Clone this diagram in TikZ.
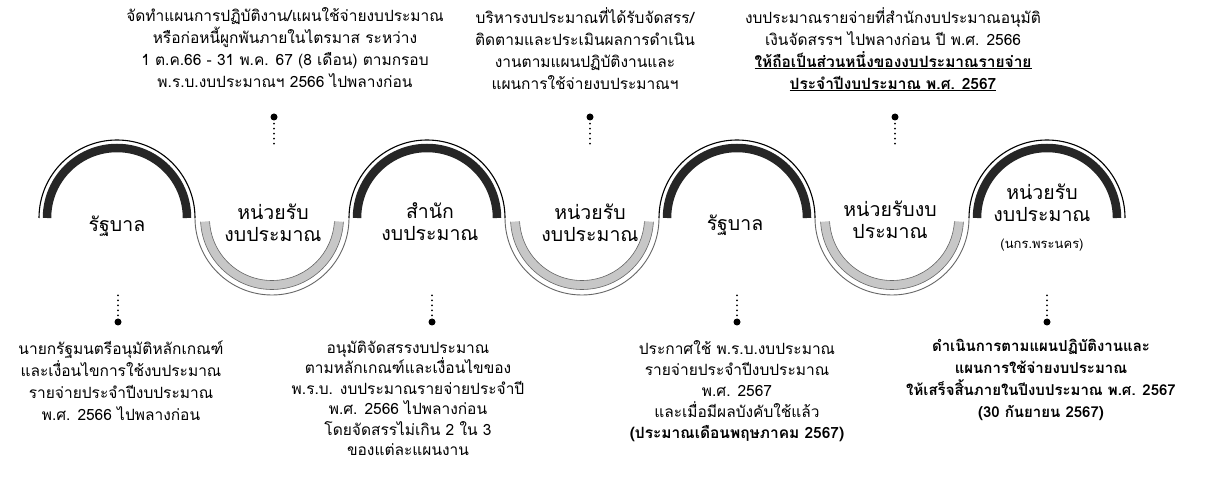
\documentclass[tikz,border=0pt]{standalone}
\usepackage{fontspec}
\newfontfamily\thaifont[Script=Thai]{Loma}
\usetikzlibrary{positioning,calc}
\tikzset{
  hill/.style={line width=8.5pt, draw=black!85},
  hillrim/.style={line width=1.1pt, draw=black},
  dip/.style={line width=9pt, draw=black!22},
  diprim/.style={line width=0.6pt, draw=black!60},
  stage/.style={font=\thaifont\fontsize{19.5}{22}\selectfont, align=center, inner sep=0pt},
  note/.style={font=\thaifont\fontsize{15.5}{22}\selectfont, align=center, inner sep=0pt},
  pin/.style={circle, fill=black, minimum size=7pt, inner sep=0pt},
  connect/.style={line width=2pt, dash pattern=on 0pt off 5pt, line cap=round, shorten <=3pt}
}
\begin{document}
\begin{tikzpicture}[x=1pt,y=1pt]
  \useasboundingbox (0,0) rectangle (1212,479);

  % Draw the hills: dark band with a thin rim
  \foreach \i [evaluate = \i as \cx using {117+155*\i}] in {0,2,4,6} {
    \draw[hillrim] ({\cx+78},261) arc[start angle=0, end angle=180, radius=78];
    \draw[hill] ({\cx+70},261) arc[start angle=0, end angle=180, radius=70];
  }

  % Draw the dips: grey band between thin lines
  \foreach \i [evaluate = \i as \cx using {117+155*\i}] in {1,3,5} {
    \draw[diprim, line width=0.9pt] ({\cx-77},261) arc[start angle=180, end angle=360, radius=77];
    \draw[dip] ($({\cx},261)+(183:67)$) arc[start angle=183, end angle=357, radius=67];
    \draw[diprim] ($({\cx},261)+(183:71.5)$) arc[start angle=183, end angle=357, radius=71.5];
    \draw[diprim] ($({\cx},261)+(183:62.5)$) arc[start angle=183, end angle=357, radius=62.5];
  }

  % Stage names
  \node[stage] (gov_1) at (117,253) {รัฐบาล};
  \node[stage] (unit_1) at (273,256) {หน่วยรับ\\งบประมาณ};
  \node[stage] (bureau) at (430,257) {สำนัก\\งบประมาณ};
  \node[stage] (unit_2) at (590,256) {หน่วยรับ\\งบประมาณ};
  \node[stage] (gov_2) at (735,254) {รัฐบาล};
  \node[stage] (unit_3) at (890,259) {หน่วยรับงบ\\ประมาณ};
  \node[stage] (unit_4) at (1042,261) {หน่วยรับ\\งบประมาณ\\[5pt]{\fontsize{13}{16}\selectfont (นกร.พระนคร)}};

  % Pins above the dips
  \node[pin] (pin_t1) at (274,362) {};
  \node[pin] (pin_t2) at (590,362) {};
  \node[pin] (pin_t3) at (895,362) {};
  \foreach \p in {t1,t2,t3} {
    \coordinate (end_\p) at ($(pin_\p)+(0,-31)$);
    \path (pin_\p) edge [connect] (end_\p);
  }

  % Pins below the hills
  \node[pin] (pin_b1) at (118,157) {};
  \node[pin] (pin_b2) at (432,157) {};
  \node[pin] (pin_b3) at (737,157) {};
  \node[pin] (pin_b4) at (1047,157) {};
  \foreach \p in {b1,b2,b3,b4} {
    \coordinate (end_\p) at ($(pin_\p)+(0,31)$);
    \path (pin_\p) edge [connect] (end_\p);
  }

  % Notes on top
  \node[note, anchor=north] (plan) at (285,472)
    {จัดทำแผนการปฏิบัติงาน/แผนใช้จ่ายงบประมาณ\\หรือก่อหนี้ผูกพันภายในไตรมาส ระหว่าง\\1 ต.ค.66 - 31 พ.ค. 67 (8 เดือน) ตามกรอบ\\พ.ร.บ.งบประมาณฯ 2566 ไปพลางก่อน};
  \node[note, anchor=north] (manage) at (585,472)
    {บริหารงบประมาณที่ได้รับจัดสรร/\\ติดตามและประเมินผลการดำเนิน\\งานตามแผนปฏิบัติงานและ\\แผนการใช้จ่ายงบประมาณฯ};
  \node[note, anchor=north] (carry) at (893,472)
    {งบประมาณรายจ่ายที่สำนักงบประมาณอนุมัติ\\เงินจัดสรรฯ ไปพลางก่อน ปี พ.ศ. 2566\\{\bfseries\underline{ให้ถือเป็นส่วนหนึ่งของงบประมาณรายจ่าย}}\\{\bfseries\underline{ประจำปีงบประมาณ พ.ศ. 2567}}};

  % Notes below
  \node[note, below=15pt of pin_b1, xshift=3pt] (approve)
    {นายกรัฐมนตรีอนุมัติหลักเกณฑ์\\และเงื่อนไขการใช้งบประมาณ\\รายจ่ายประจำปีงบประมาณ\\พ.ศ. 2566 ไปพลางก่อน};
  \node[note, below=15pt of pin_b2, xshift=-24pt, font=\thaifont\fontsize{15.5}{20.5}\selectfont] (allot)
    {อนุมัติจัดสรรงบประมาณ\\ตามหลักเกณฑ์และเงื่อนไขของ\\พ.ร.บ. งบประมาณรายจ่ายประจำปี\\พ.ศ. 2566 ไปพลางก่อน\\โดยจัดสรรไม่เกิน 2 ใน 3\\ของแต่ละแผนงาน};
  \node[note, below=15pt of pin_b3, font=\thaifont\fontsize{15.5}{21}\selectfont] (enact)
    {ประกาศใช้ พ.ร.บ.งบประมาณ\\รายจ่ายประจำปีงบประมาณ\\พ.ศ. 2567\\และเมื่อมีผลบังคับใช้แล้ว\\{\bfseries (ประมาณเดือนพฤษภาคม 2567)}};
  \node[note, below=13pt of pin_b4, xshift=-6pt, font=\thaifont\bfseries\fontsize{15}{22}\selectfont] (finish)
    {ดำเนินการตามแผนปฏิบัติงานและ\\แผนการใช้จ่ายงบประมาณ\\ให้เสร็จสิ้นภายในปีงบประมาณ พ.ศ. 2567\\(30 กันยายน 2567)};
\end{tikzpicture}
\end{document}
